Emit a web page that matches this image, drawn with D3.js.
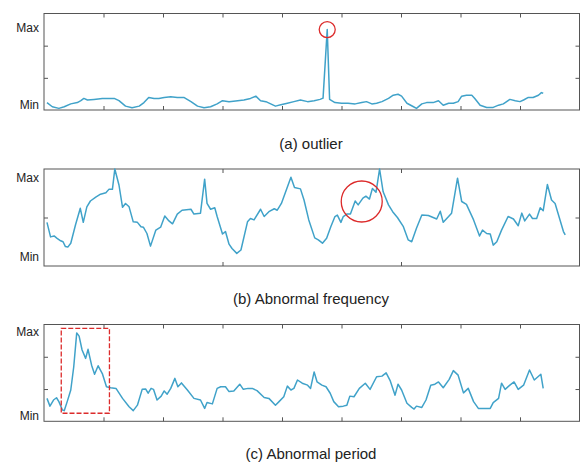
<!DOCTYPE html>
<html>
<head>
<meta charset="utf-8">
<script src="https://cdn.jsdelivr.net/npm/d3@7"></script>
<style>
body { margin: 0; background: #fff; }
text { font-family: "Liberation Sans", Arial, sans-serif; fill: #222; }
</style>
</head>
<body>
<div class="chart"></div>
<script>
// (a) outlier
var outlierX = [5,14,25,34,45,56,62,67,73,84,98,109,118,126,137,148,160,168,176,185,193,202,213,224,235,247,258,269,280,291,300,311,322,336,347,356,364,373,381,389,398,409,420,431,443,454,464,469,476,480,489,500,511,523,534,542,551,559,568,579,587,595,601,610,621,626,635,643,654,663,671,680,688,696,702,710,719,724,733,744,755,764,772,783,792,800,806,814,822,831,836,839];
var outlierY = [0.23,0.10,0.05,0.10,0.19,0.23,0.29,0.36,0.31,0.33,0.36,0.36,0.36,0.29,0.12,0.07,0.12,0.23,0.39,0.36,0.36,0.39,0.41,0.39,0.39,0.26,0.12,0.07,0.10,0.19,0.29,0.26,0.28,0.31,0.36,0.43,0.29,0.26,0.19,0.12,0.16,0.21,0.26,0.31,0.26,0.29,0.33,0.37,2.50,0.33,0.23,0.21,0.21,0.19,0.23,0.26,0.19,0.21,0.26,0.36,0.46,0.49,0.43,0.21,0.10,0.05,0.19,0.23,0.23,0.29,0.15,0.21,0.21,0.26,0.43,0.46,0.46,0.36,0.15,0.08,0.08,0.15,0.19,0.33,0.29,0.26,0.31,0.39,0.39,0.46,0.54,0.52];

// (b) abnormal frequency
var freqX = [5,11,17,22,28,32,36,40,45,53,61,66,72,78,87,95,104,109,115,119,126,132,137,143,150,157,163,167,173,179,188,196,203,210,216,224,232,247,252,263,270,274,280,287,291,300,305,311,316,324,331,342,347,353,364,370,378,387,392,399,415,421,431,437,445,455,461,468,475,482,489,493,499,503,509,515,523,528,536,541,547,552,558,564,570,579,586,594,604,612,618,626,635,646,660,666,671,680,685,695,702,710,722,732,737,744,750,755,761,769,780,789,797,803,808,816,821,828,834,839,846,853,859,873,876];
var freqY = [0.90,0.60,0.62,0.57,0.52,0.50,0.40,0.39,0.47,0.85,1.19,0.90,1.22,1.34,1.42,1.48,1.51,1.58,1.58,2.00,1.67,1.21,1.29,1.22,0.91,0.90,0.81,0.80,0.67,0.41,0.74,0.80,1.03,0.93,0.87,1.07,1.15,1.17,1.07,1.09,1.79,1.29,1.17,1.20,1.02,0.66,0.71,0.45,0.36,0.26,0.33,0.91,0.98,0.95,1.17,1.02,1.12,1.18,1.15,1.29,1.83,1.62,1.59,1.36,0.95,0.58,0.54,0.47,0.57,0.81,1.02,1.05,0.90,1.02,1.07,1.07,1.34,1.26,1.40,1.44,1.38,1.60,1.52,2.00,1.53,1.26,1.12,1.00,0.81,0.54,0.50,0.78,1.05,1.04,0.97,1.13,0.90,1.02,1.09,1.81,1.33,1.27,0.95,0.62,0.74,0.67,0.66,0.43,0.50,0.74,1.02,0.97,0.83,1.09,0.93,1.07,0.98,0.98,1.20,1.14,1.68,1.36,1.29,0.71,0.64];

// (c) abnormal period
var periodX = [5,10,16,21,25,31,34,39,45,50,55,59,64,70,74,80,85,91,98,105,112,121,132,143,150,157,165,171,175,180,184,190,197,202,207,213,220,225,231,241,252,263,270,274,283,291,297,305,311,319,329,335,343,350,358,370,378,389,395,403,409,415,420,426,434,443,448,454,459,467,474,481,487,495,503,509,514,521,530,540,548,559,568,575,582,590,595,601,610,618,622,626,635,642,650,657,663,671,681,688,696,705,713,722,730,738,750,755,764,769,775,783,790,797,806,816,824,835,839];
var periodY = [0.71,0.47,0.66,0.73,0.61,0.35,0.33,0.61,0.97,1.69,2.74,2.64,2.21,1.95,2.23,1.74,1.46,1.72,1.48,1.07,1.04,1.02,0.71,0.45,0.33,0.50,0.99,1.00,0.87,1.02,0.99,0.66,0.78,0.94,0.84,1.02,1.33,1.07,1.19,0.97,0.71,0.66,0.40,0.58,0.54,1.02,1.07,1.07,0.92,0.94,1.15,0.99,1.02,1.02,0.95,0.74,0.71,0.50,0.61,0.76,1.09,0.97,1.02,1.28,1.18,1.12,1.02,1.53,1.22,1.12,1.07,0.87,0.61,0.45,0.47,0.50,0.78,0.76,1.02,1.18,0.99,1.38,1.40,1.50,1.25,0.81,1.15,0.97,0.56,0.43,0.38,0.47,0.43,0.66,1.12,1.15,1.22,1.04,1.30,1.57,1.43,0.88,1.02,0.61,0.40,0.40,0.40,0.58,0.71,1.18,0.99,1.12,1.22,0.99,1.12,1.59,1.28,1.46,1.02];

var captions = ["(a) outlier", "(b) Abnormal frequency", "(c) Abnormal period"];
var yLabels = ["Max", "Min"];
var labelMax = [2.57, 1.81, 2.77];
var labelMin = [0.15, 0.19, 0.17];

var W = 588, H = 464;
var svg = d3.select(".chart").append("svg")
    .attr("width", W)
    .attr("height", H);

var x = d3.scaleLinear().domain([0, 900]).range([44, 579.5]);

var panels = [
    {xs: outlierX, ys: outlierY, yMax: 3, top: 13.5, bottom: 110, xTicks: d3.range(100, 900, 100), yTicks: [1, 2], capY: 148.5},
    {xs: freqX, ys: freqY, yMax: 2, top: 169, bottom: 266, xTicks: [300, 600], yTicks: [1], capY: 304},
    {xs: periodX, ys: periodY, yMax: 3, top: 324.5, bottom: 421.3, xTicks: d3.range(100, 900, 100), yTicks: [1, 2], capY: 459}
];

panels.forEach(function (p, i) {
    var y = d3.scaleLinear().domain([0, p.yMax]).range([p.bottom, p.top]);
    p.y = y;
    var g = svg.append("g");

    // inward ticks on all four sides
    g.append("g").attr("transform", "translate(0," + p.bottom + ")")
        .call(d3.axisBottom(x).tickValues(p.xTicks).tickSize(-4).tickFormat(""));
    g.append("g").attr("transform", "translate(0," + p.top + ")")
        .call(d3.axisTop(x).tickValues(p.xTicks).tickSize(-4).tickFormat(""));
    g.append("g").attr("transform", "translate(" + x(0) + ",0)")
        .call(d3.axisLeft(y).tickValues(p.yTicks).tickSize(-4).tickFormat(""));
    g.append("g").attr("transform", "translate(" + x(900) + ",0)")
        .call(d3.axisRight(y).tickValues(p.yTicks).tickSize(-4).tickFormat(""));
    g.selectAll(".domain").remove();
    g.selectAll(".tick line").attr("stroke", "#555");

    g.append("rect")
        .attr("x", x(0)).attr("y", p.top)
        .attr("width", x(900) - x(0)).attr("height", p.bottom - p.top)
        .attr("fill", "none").attr("stroke", "#555").attr("stroke-width", 1);

    var line = d3.line()
        .x(function (d, j) { return x(p.xs[j]); })
        .y(function (d) { return y(d); });

    g.append("path")
        .datum(p.ys)
        .attr("d", line)
        .attr("fill", "none")
        .attr("stroke", "#40a2c9")
        .attr("stroke-width", 1.5)
        .attr("stroke-linejoin", "round");

    g.append("text").attr("x", 39).attr("y", y(labelMax[i])).attr("dy", "0.35em")
        .attr("text-anchor", "end").style("font-size", "12px").text(yLabels[0]);
    g.append("text").attr("x", 39).attr("y", y(labelMin[i])).attr("dy", "0.35em")
        .attr("text-anchor", "end").style("font-size", "12px").text(yLabels[1]);

    g.append("text").attr("x", 311).attr("y", p.capY)
        .attr("text-anchor", "middle").style("font-size", "15px").text(captions[i]);
});

// highlight marks
var pa = panels[0], pb = panels[1], pc = panels[2];
svg.append("circle")
    .attr("cx", x(476)).attr("cy", pa.y(2.5)).attr("r", 8)
    .attr("fill", "none").attr("stroke", "#dc2b2b").attr("stroke-width", 1.3);

svg.append("circle")
    .attr("cx", x(534)).attr("cy", pb.y(1.33)).attr("r", 20.5)
    .attr("fill", "none").attr("stroke", "#dc2b2b").attr("stroke-width", 1.3);

svg.append("rect")
    .attr("x", x(29)).attr("y", pc.y(2.88))
    .attr("width", x(110) - x(29)).attr("height", pc.y(0.25) - pc.y(2.88))
    .attr("fill", "none").attr("stroke", "#dc2b2b").attr("stroke-width", 1.3)
    .attr("stroke-dasharray", "5,2");
</script>
</body>
</html>
